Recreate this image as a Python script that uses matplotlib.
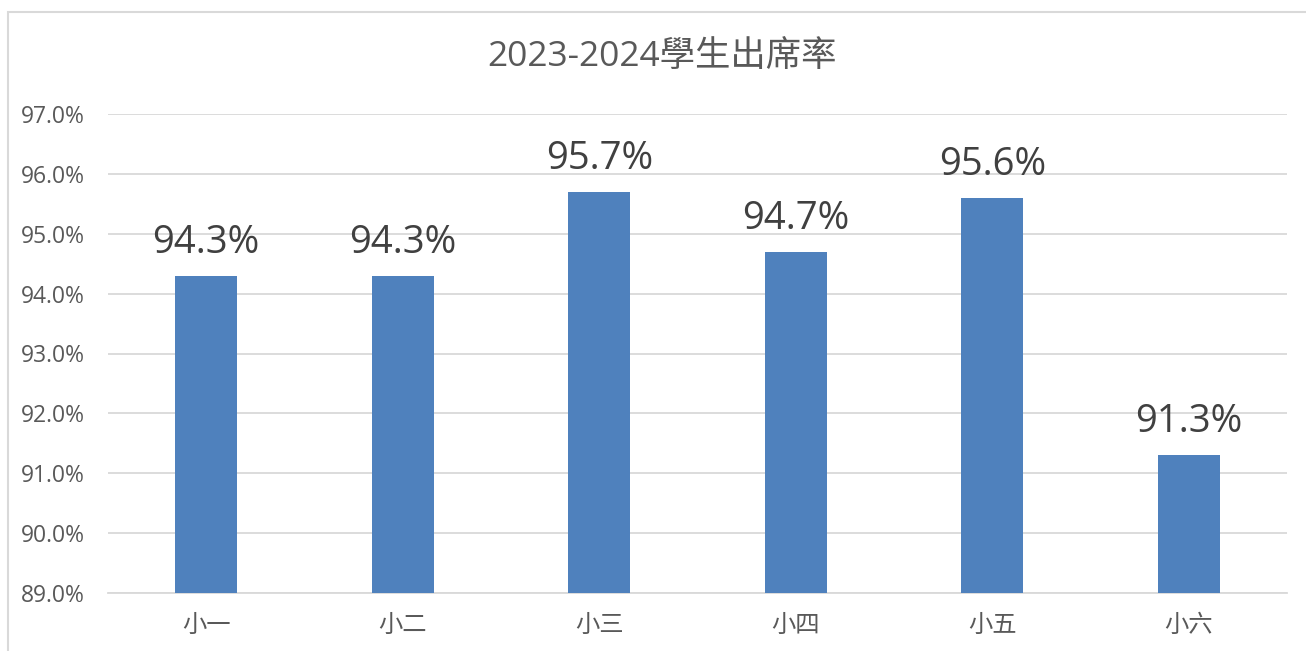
import matplotlib.pyplot as plt
from matplotlib.patches import Rectangle
from matplotlib.ticker import FuncFormatter

plt.rcParams['font.family'] = ['Open Sans', 'Noto Sans CJK TC', 'DejaVu Sans']

grades = ['小一', '小二', '小三', '小四', '小五', '小六']
rates = [94.3, 94.3, 95.7, 94.7, 95.6, 91.3]
yticks = [89, 90, 91, 92, 93, 94, 95, 96, 97]

fig = plt.figure(figsize=(13.06, 6.51), dpi=100)
ax = fig.add_axes([108/1306, 58/651, 1179/1306, 479/651])

x = list(range(len(grades)))
bars = ax.bar(x, rates, width=0.315, color='#4F81BD', zorder=3)
ax.set_xlim(-0.5, len(grades) - 0.5)
ax.set_ylim(89, 97)
ax.set_yticks(yticks)
ax.yaxis.set_major_formatter(FuncFormatter(lambda v, p: '%.1f%%' % v))
ax.set_xticks(x)
ax.set_xticklabels(grades, fontsize=17.5, color='#595959', family=['Noto Sans CJK TC'])
ax.tick_params(axis='y', labelsize=16.5, colors='#595959', length=0, pad=16.5)
ax.tick_params(axis='x', length=0, pad=14)
ax.grid(axis='y', color='#D9D9D9', linewidth=1.3, zorder=0)
for s in ['top', 'right', 'left']:
    ax.spines[s].set_visible(False)
ax.spines['bottom'].set_color('#D9D9D9')
ax.spines['bottom'].set_linewidth(1.3)

for b, v in zip(bars, rates):
    ax.annotate('%.1f%%' % v, (b.get_x() + b.get_width()/2, v),
                xytext=(0, 10), textcoords='offset points',
                ha='center', va='bottom', fontsize=27.5, color='#404040')

fig.text(662/1306, 1 - 57/651, '2023-2024學生出席率', ha='center', va='center',
         fontsize=25.5, color='#595959')

fig.patches.append(Rectangle((8/1306, -0.1), 1.2, 1.1 - 12/651, transform=fig.transFigure,
                             fill=False, edgecolor='#D9D9D9', linewidth=1.5))

fig.savefig('out.png', dpi=100)
